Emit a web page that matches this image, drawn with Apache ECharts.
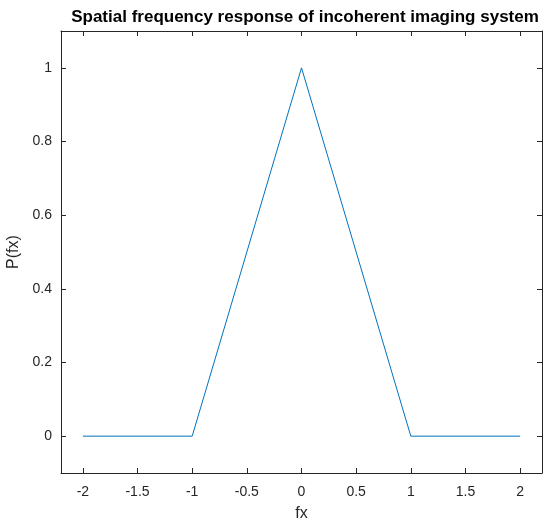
<!DOCTYPE html>
<html><head><meta charset="utf-8">
<script src="https://cdn.jsdelivr.net/npm/echarts@6/dist/echarts.min.js"></script>
<style>html,body{margin:0;padding:0;background:#fff}#c{width:544px;height:523px}</style>
</head><body><div id="c"></div>
<script>
const titleText = 'Spatial frequency response of incoherent imaging system';
const xName = 'fx';
const yName = 'P(fx)';
const fxValues = [-2, -1, 0, 1, 2];
const pValues = [0, 0, 1, 0, 0];
const xTicks = [-2, -1.5, -1, -0.5, 0, 0.5, 1, 1.5, 2];
const yTicks = [0, 0.2, 0.4, 0.6, 0.8, 1];

const axisColor = '#262626';
const font = 'Liberation Sans, Arial, Helvetica, sans-serif';
const chart = echarts.init(document.getElementById('c'), null, {renderer: 'canvas'});
const baseX = {
  type: 'value', min: -2.2, max: 2.2,
  axisLine: {show: true, onZero: false, lineStyle: {color: axisColor, width: 1}},
  axisTick: {show: true, inside: true, length: 5, customValues: xTicks, lineStyle: {color: axisColor}},
  splitLine: {show: false}
};
const baseY = {
  type: 'value', min: -0.1, max: 1.1,
  axisLine: {show: true, onZero: false, lineStyle: {color: axisColor, width: 1}},
  axisTick: {show: true, inside: true, length: 5, customValues: yTicks, lineStyle: {color: axisColor}},
  splitLine: {show: false}
};
chart.setOption({
  animation: false,
  title: {text: titleText, left: 300, textAlign: 'center', top: 4,
    textStyle: {fontFamily: font, fontSize: 17, fontWeight: 'bold', color: '#000'}},
  grid: {left: 61, right: 2, top: 31, bottom: 50, containLabel: false, outerBoundsMode: 'none'},
  xAxis: [
    Object.assign({}, baseX, {position: 'bottom', name: xName, nameLocation: 'middle', nameGap: 33,
      nameTextStyle: {fontFamily: font, fontSize: 16, color: axisColor},
      axisLabel: {show: true, customValues: xTicks, margin: 12, fontFamily: font, fontSize: 14, color: axisColor,
        formatter: v => String(v)}}),
    Object.assign({}, baseX, {position: 'top', axisLabel: {show: false}})
  ],
  yAxis: [
    Object.assign({}, baseY, {position: 'left', name: yName, nameLocation: 'middle', nameGap: 35,
      nameTextStyle: {fontFamily: font, fontSize: 16, color: axisColor},
      axisLabel: {show: true, customValues: yTicks, margin: 9, fontFamily: font, fontSize: 14, color: axisColor,
        formatter: v => String(v)}}),
    Object.assign({}, baseY, {position: 'right', axisLabel: {show: false}})
  ],
  series: [{
    type: 'line', data: fxValues.map((x, i) => [x, pValues[i]]),
    showSymbol: false, lineStyle: {color: '#0072BD', width: 1}, itemStyle: {color: '#0072BD'}
  }]
});
</script></body></html>
